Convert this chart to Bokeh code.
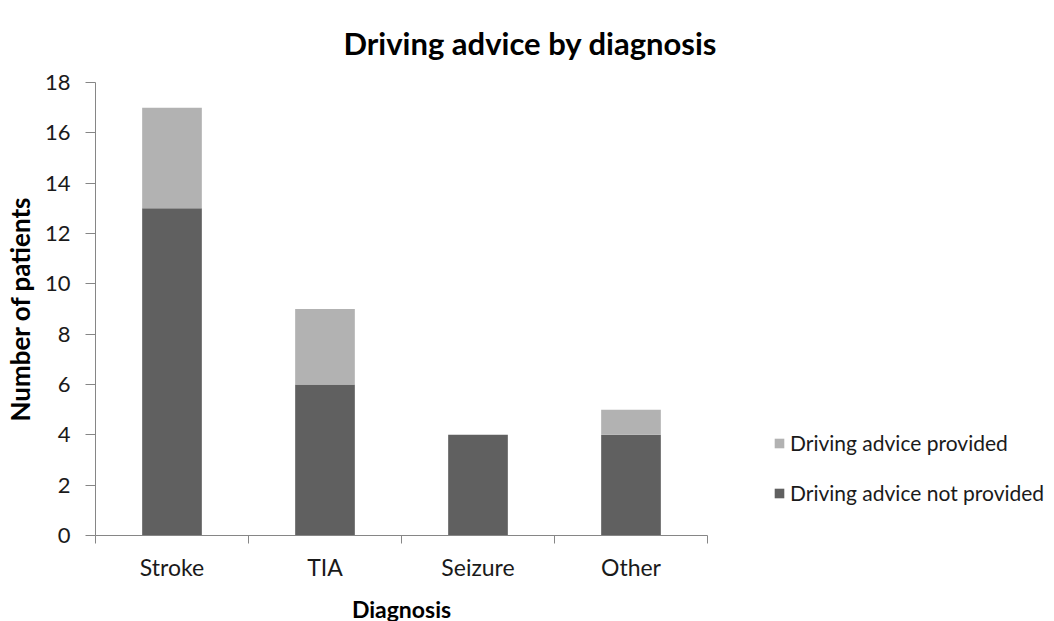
from bokeh.plotting import figure
from bokeh.models import Range1d, FixedTicker, Legend, LegendItem, ColumnDataSource
from bokeh.embed import file_html
from bokeh.resources import INLINE

categories = ["Stroke", "TIA", "Seizure", "Other"]
not_provided = [13, 6, 4, 4]
provided = [4, 3, 0, 1]
y_ticks = [0, 2, 4, 6, 8, 10, 12, 14, 16, 18]

FONT = "Lato"
DARK = "#606060"
LIGHT = "#b2b2b2"
AXIS = "#868686"
TXT = "#1a1a1a"

xc = [i + 0.5 for i in range(len(categories))]
src = ColumnDataSource(dict(x=xc, cat=categories, not_provided=not_provided, provided=provided))

p = figure(frame_width=612, frame_height=453, output_backend="svg", toolbar_location=None,
           x_range=Range1d(0, len(categories)), y_range=Range1d(0, 18),
           min_border_left=93, min_border_right=340, min_border_top=82, min_border_bottom=20)
p.title.text = "Driving advice by diagnosis"
p.title.text_font = FONT
p.title.text_font_size = "31px"
p.title.text_font_style = "bold"
p.title.text_color = "#000000"
p.title.align = "left"
p.title.vertical_align = "top"
p.title.offset = 248
p.title.standoff = 38

r = p.vbar_stack(["not_provided", "provided"], x="x", width=0.39, source=src,
                 color=[DARK, LIGHT], line_color=None)

p.xgrid.visible = False
p.ygrid.visible = False
p.outline_line_color = None

xa = p.xaxis[0]
xa.ticker = FixedTicker(ticks=xc, minor_ticks=list(range(len(categories) + 1)))
xa.major_label_overrides = {x: c for x, c in zip(xc, categories)}
xa.major_tick_line_color = None
xa.major_tick_out = 0
xa.major_tick_in = 0
xa.minor_tick_line_color = AXIS
xa.minor_tick_out = 8
xa.minor_tick_in = 0
xa.axis_line_color = AXIS
xa.major_label_text_font = FONT
xa.major_label_text_font_size = "23px"
xa.major_label_text_color = TXT
xa.major_label_standoff = 9
xa.axis_label = "Diagnosis"
xa.axis_label_text_font = FONT
xa.axis_label_text_font_size = "23px"
xa.axis_label_text_font_style = "bold"
xa.axis_label_text_color = "#000000"
xa.axis_label_standoff = 11

ya = p.yaxis[0]
ya.ticker = FixedTicker(ticks=y_ticks)
ya.minor_tick_line_color = None
ya.major_tick_line_color = AXIS
ya.major_tick_out = 10
ya.major_tick_in = 0
ya.axis_line_color = AXIS
ya.major_label_text_font = FONT
ya.major_label_text_font_size = "22px"
ya.major_label_text_color = TXT
ya.major_label_standoff = 15
ya.axis_label = "Number of patients"
ya.axis_label_text_font = FONT
ya.axis_label_text_font_size = "26px"
ya.axis_label_text_font_style = "bold"
ya.axis_label_text_color = "#000000"
ya.axis_label_standoff = 6

legend = Legend(items=[LegendItem(label="Driving advice provided", renderers=[r[1]]),
                       LegendItem(label="Driving advice not provided", renderers=[r[0]])],
                location=(66, 30), orientation="vertical",
                glyph_width=12, glyph_height=12, label_standoff=5, spacing=25,
                padding=0, margin=0, border_line_color=None, background_fill_alpha=0,
                label_text_font=FONT, label_text_font_size="21px", label_text_color=TXT)
p.add_layout(legend, "right")

open("out.html", "w").write(file_html(p, INLINE))
